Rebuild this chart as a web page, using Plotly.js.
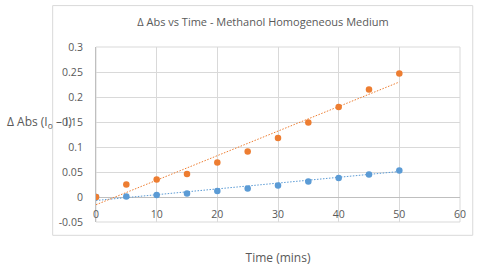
<!DOCTYPE html>
<html>
<head>
<meta charset="utf-8">
<script src="https://cdn.plot.ly/plotly-3.0.1.min.js"></script>
<style>html,body{margin:0;padding:0;background:#fff;}#chart{width:482px;height:267px;}</style>
</head>
<body>
<div id="chart"></div>
<script>
var timeMins = [0, 5, 10, 15, 20, 25, 30, 35, 40, 45, 50];
var seriesOrange = [0, 0.025, 0.035, 0.046, 0.069, 0.091, 0.118, 0.149, 0.180, 0.215, 0.247];
var seriesBlue = [0, 0.001, 0.004, 0.007, 0.012, 0.017, 0.023, 0.031, 0.038, 0.045, 0.053];
var trendX = [0, 50];
var trendOrange = [-0.0155, 0.230];
var trendBlue = [-0.007, 0.051];
var xTicks = [0, 10, 20, 30, 40, 50, 60];
var yTicks = [-0.05, 0, 0.05, 0.1, 0.15, 0.2, 0.25, 0.3];
var yTickText = ['-0.05', '0', '0.05', '0.1', '0.15', '0.2', '0.25', '0.3'];

var ORANGE = '#ED7D31', BLUE = '#5B9BD5', TXT = '#595959', GRID = '#d9d9d9';
var FONT = 'Open Sans, Liberation Sans, sans-serif';

var data = [
  {x: trendX, y: trendBlue, mode: 'lines', line: {color: BLUE, width: 1, dash: '1.5px,1.5px'}, hoverinfo: 'skip', showlegend: false},
  {x: trendX, y: trendOrange, mode: 'lines', line: {color: ORANGE, width: 1, dash: '1.5px,1.5px'}, hoverinfo: 'skip', showlegend: false},
  {x: timeMins, y: seriesBlue, mode: 'markers', marker: {color: BLUE, size: 6.5}, name: 'Blue', showlegend: false},
  {x: timeMins, y: seriesOrange, mode: 'markers', marker: {color: ORANGE, size: 6.5}, name: 'Orange', showlegend: false}
];

var layout = {
  width: 482, height: 267,
  margin: {l: 96, r: 22, t: 47, b: 45, pad: 0},
  paper_bgcolor: '#fff', plot_bgcolor: '#fff',
  font: {family: FONT, size: 10.5, color: TXT},
  title: {text: 'Δ Abs vs Time - Methanol Homogeneous Medium', font: {family: FONT, size: 11, color: TXT},
          xref: 'container', yref: 'container', x: 0.5456, y: 0.918, xanchor: 'center', yanchor: 'middle'},
  xaxis: {
    range: [0, 60], tickvals: xTicks, ticktext: xTicks.map(String),
    showgrid: true, gridcolor: GRID, gridwidth: 1,
    zeroline: false, showline: false, ticks: '',
    ticklabelstandoff: -16,
    tickfont: {family: FONT, size: 10.5, color: TXT},
    title: {text: 'Time (mins)', font: {family: FONT, size: 12, color: TXT}, standoff: 34},
    fixedrange: true
  },
  yaxis: {
    range: [-0.05, 0.3], tickvals: yTicks, ticktext: yTickText,
    showgrid: true, gridcolor: GRID, gridwidth: 1,
    zeroline: true, zerolinecolor: '#bfbfbf', zerolinewidth: 1,
    showline: true, linecolor: '#bfbfbf', linewidth: 1,
    ticks: 'outside', ticklen: 10, tickcolor: 'rgba(0,0,0,0)',
    tickfont: {family: FONT, size: 10.5, color: TXT},
    fixedrange: true
  },
  shapes: [
    {type: 'rect', xref: 'paper', yref: 'paper', x0: -0.119, x1: 1.035, y0: -0.076, y1: 1.2366,
     line: {color: GRID, width: 1}, fillcolor: 'rgba(0,0,0,0)', layer: 'below'},
    {type: 'rect', xref: 'paper', yref: 'paper', x0: 0, x1: 1, y0: 0, y1: 1,
     line: {color: GRID, width: 1}, fillcolor: 'rgba(0,0,0,0)', layer: 'below'}
  ],
  annotations: [
    {text: 'Δ Abs (I<sub>o</sub> – I)', xref: 'paper', yref: 'paper', x: -0.25, y: 0.57,
     xanchor: 'left', yanchor: 'middle', showarrow: false, font: {family: FONT, size: 12, color: TXT}}
  ]
};

Plotly.newPlot('chart', data, layout, {displayModeBar: false, staticPlot: true});
</script>
</body>
</html>
